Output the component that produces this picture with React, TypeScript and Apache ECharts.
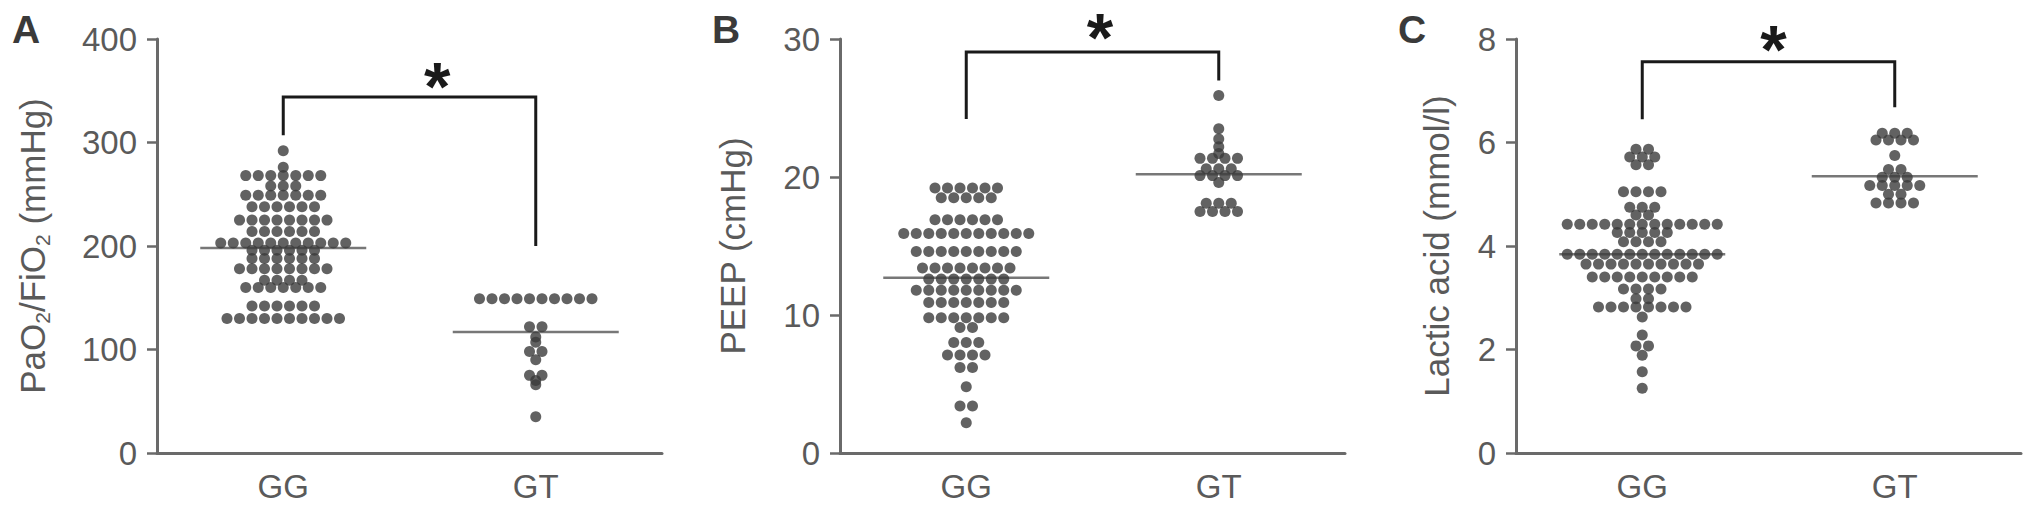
import React, { useEffect, useRef } from "react";
import * as echarts from "echarts";

const categories = ["GG", "GT"];

// Each row: [value, number of dots drawn side by side at that value]
const paoGG = [[292, 1], [276, 1], [268, 7], [258, 3], [249, 7], [238, 6], [225, 8], [214, 6], [203, 11], [196, 6], [188, 6], [178, 8], [167, 4], [160, 7], [142, 6], [130, 10]];
const paoGT = [[149, 10], [122, 2], [112, 1], [107, 1], [98, 2], [90, 1], [75, 2], [70, 1], [66, 1], [35, 1]];
const paoMeans = [198, 117];
const paoBracket = [307, 344, 200, 370]; // left end, top, right end, asterisk
const paoTicks = [0, 100, 200, 300, 400];

const peepGG = [[19.2, 6], [18.5, 5], [16.9, 6], [15.9, 11], [14.6, 9], [13.4, 8], [12.6, 7], [11.8, 9], [10.9, 7], [9.8, 7], [9.1, 2], [8.0, 3], [7.1, 4], [6.2, 2], [4.8, 1], [3.4, 2], [2.2, 1]];
const peepGT = [[25.9, 1], [23.5, 1], [22.75, 1], [22.2, 1], [21.7, 1], [21.35, 4], [20.6, 3], [20.1, 4], [19.6, 1], [18.1, 3], [17.5, 4]];
const peepMeans = [12.7, 20.2];
const peepBracket = [24.2, 29.06, 27.0, 31.3];
const peepTicks = [0, 10, 20, 30];

const lacGG = [[5.87, 2], [5.72, 3], [5.57, 2], [5.05, 4], [4.75, 3], [4.6, 2], [4.42, 13], [4.26, 5], [4.08, 4], [3.84, 13], [3.65, 10], [3.4, 9], [3.17, 4], [2.98, 2], [2.82, 8], [2.63, 1], [2.28, 1], [2.07, 2], [1.89, 1], [1.57, 1], [1.25, 1]];
const lacGT = [[6.18, 3], [6.05, 4], [5.75, 1], [5.48, 2], [5.33, 3], [5.17, 5], [5.0, 2], [4.83, 4]];
const lacMeans = [3.84, 5.35];
const lacBracket = [6.45, 7.56, 6.68, 8.1];
const lacTicks = [0, 2, 4, 6, 8];

const letters = ["A", "B", "C"];
const yNames = ["PaO{s|2}/FiO{s|2} (mmHg)", "PEEP (cmHg)", "Lactic acid (mmol/l)"];

const FONT = "Liberation Sans, Arial, sans-serif";
const TEXT = "#5a5a5a";
const AXIS = "#6a6a6a";
const DOT = "#3b3b3b";
const SLOT = 12.5;

const layout = [
  { left: 157, nameGap: 104, letterX: 27, starFrac: 0.61 },
  { left: 840, nameGap: 87, letterX: 727, starFrac: 0.53 },
  { left: 1516, nameGap: 59, letterX: 1413, starFrac: 0.52 },
];

function dotItems(rows: number[][], cat: number) {
  const out: any[] = [];
  rows.forEach(([v, n]) => {
    for (let i = 0; i < n; i++) {
      out.push({ value: [cat, v], symbolOffset: [(i - (n - 1) / 2) * SLOT, 0] });
    }
  });
  return out;
}

const panelData = [
  { gg: paoGG, gt: paoGT, means: paoMeans, bracket: paoBracket, ticks: paoTicks },
  { gg: peepGG, gt: peepGT, means: peepMeans, bracket: peepBracket, ticks: peepTicks },
  { gg: lacGG, gt: lacGT, means: lacMeans, bracket: lacBracket, ticks: lacTicks },
];

function buildOption() {
  const grid: any[] = [];
  const xAxis: any[] = [];
  const yAxis: any[] = [];
  const series: any[] = [];
  const graphic: any[] = [];

  panelData.forEach((p, i) => {
    const L = layout[i];
    grid.push({ left: L.left, top: 39, width: 505, bottom: 60 });
    xAxis.push({
      type: "category",
      gridIndex: i,
      data: categories,
      boundaryGap: true,
      axisLine: { lineStyle: { color: AXIS, width: 3 } },
      axisTick: { alignWithLabel: true, length: 11, lineStyle: { color: AXIS, width: 2.5 } },
      axisLabel: { color: TEXT, fontSize: 33, fontFamily: FONT, margin: 17 },
      splitLine: { show: false },
    });
    const t = p.ticks;
    yAxis.push({
      type: "value",
      gridIndex: i,
      min: t[0],
      max: t[t.length - 1],
      interval: t[1] - t[0],
      name: yNames[i],
      nameLocation: "middle",
      nameGap: L.nameGap,
      nameTextStyle: {
        color: TEXT,
        fontSize: 35,
        fontFamily: FONT,
        lineHeight: 42,
        rich: { s: { fontSize: 21, lineHeight: 21, verticalAlign: "bottom", color: TEXT, fontFamily: FONT } },
      },
      axisLine: { show: true, lineStyle: { color: AXIS, width: 3 } },
      axisTick: { show: true, length: 10, lineStyle: { color: AXIS, width: 2.5 } },
      axisLabel: { color: TEXT, fontSize: 33, fontFamily: FONT, margin: 20 },
      splitLine: { show: false },
    });
    series.push({
      type: "scatter",
      xAxisIndex: i,
      yAxisIndex: i,
      symbol: "rect",
      symbolSize: [166, 2.5],
      itemStyle: { color: "#555555" },
      z: 2,
      data: p.means.map((m, c) => [c, m]),
    });
    series.push({
      type: "scatter",
      xAxisIndex: i,
      yAxisIndex: i,
      symbol: "circle",
      symbolSize: 11,
      itemStyle: { color: DOT },
      z: 3,
      data: [...dotItems(p.gg, 0), ...dotItems(p.gt, 1)],
    });
    series.push({
      type: "custom",
      xAxisIndex: i,
      yAxisIndex: i,
      z: 4,
      encode: { x: 0, y: [1, 2, 3, 4] },
      data: [[0, ...p.bracket]],
      renderItem: (params: any, api: any) => {
        const lb = api.coord([0, api.value(1)]);
        const lt = api.coord([0, api.value(2)]);
        const rt = api.coord([1, api.value(2)]);
        const rb = api.coord([1, api.value(3)]);
        const s = api.coord([0, api.value(4)]);
        const sx = lt[0] + L.starFrac * (rt[0] - lt[0]);
        const fs = 68;
        return {
          type: "group",
          children: [
            {
              type: "polyline",
              shape: { points: [lb, lt, rt, rb] },
              style: { stroke: "#1a1a1a", lineWidth: 3, fill: null },
            },
            {
              type: "text",
              x: sx,
              y: s[1] + 0.23 * fs,
              style: {
                text: "*",
                fill: "#1a1a1a",
                fontSize: fs,
                fontWeight: "bold",
                fontFamily: FONT,
                align: "center",
                verticalAlign: "middle",
              },
            },
          ],
        };
      },
    });
    graphic.push({
      type: "text",
      left: L.letterX - 15,
      top: 10,
      style: { text: letters[i], fill: "#3a3a3a", fontSize: 39, fontWeight: "bold", fontFamily: FONT },
    });
  });

  return { animation: false, backgroundColor: "#ffffff", grid, xAxis, yAxis, series, graphic };
}

export default function App() {
  const ref = useRef<HTMLDivElement>(null);
  useEffect(() => {
    if (!ref.current) return;
    const chart = echarts.init(ref.current, undefined, { renderer: "svg" });
    chart.setOption(buildOption() as any);
    return () => chart.dispose();
  }, []);
  return (
    <div
      ref={ref}
      style={{ position: "fixed", left: 0, top: 0, width: 2031, height: 513, background: "#fff" }}
    />
  );
}
